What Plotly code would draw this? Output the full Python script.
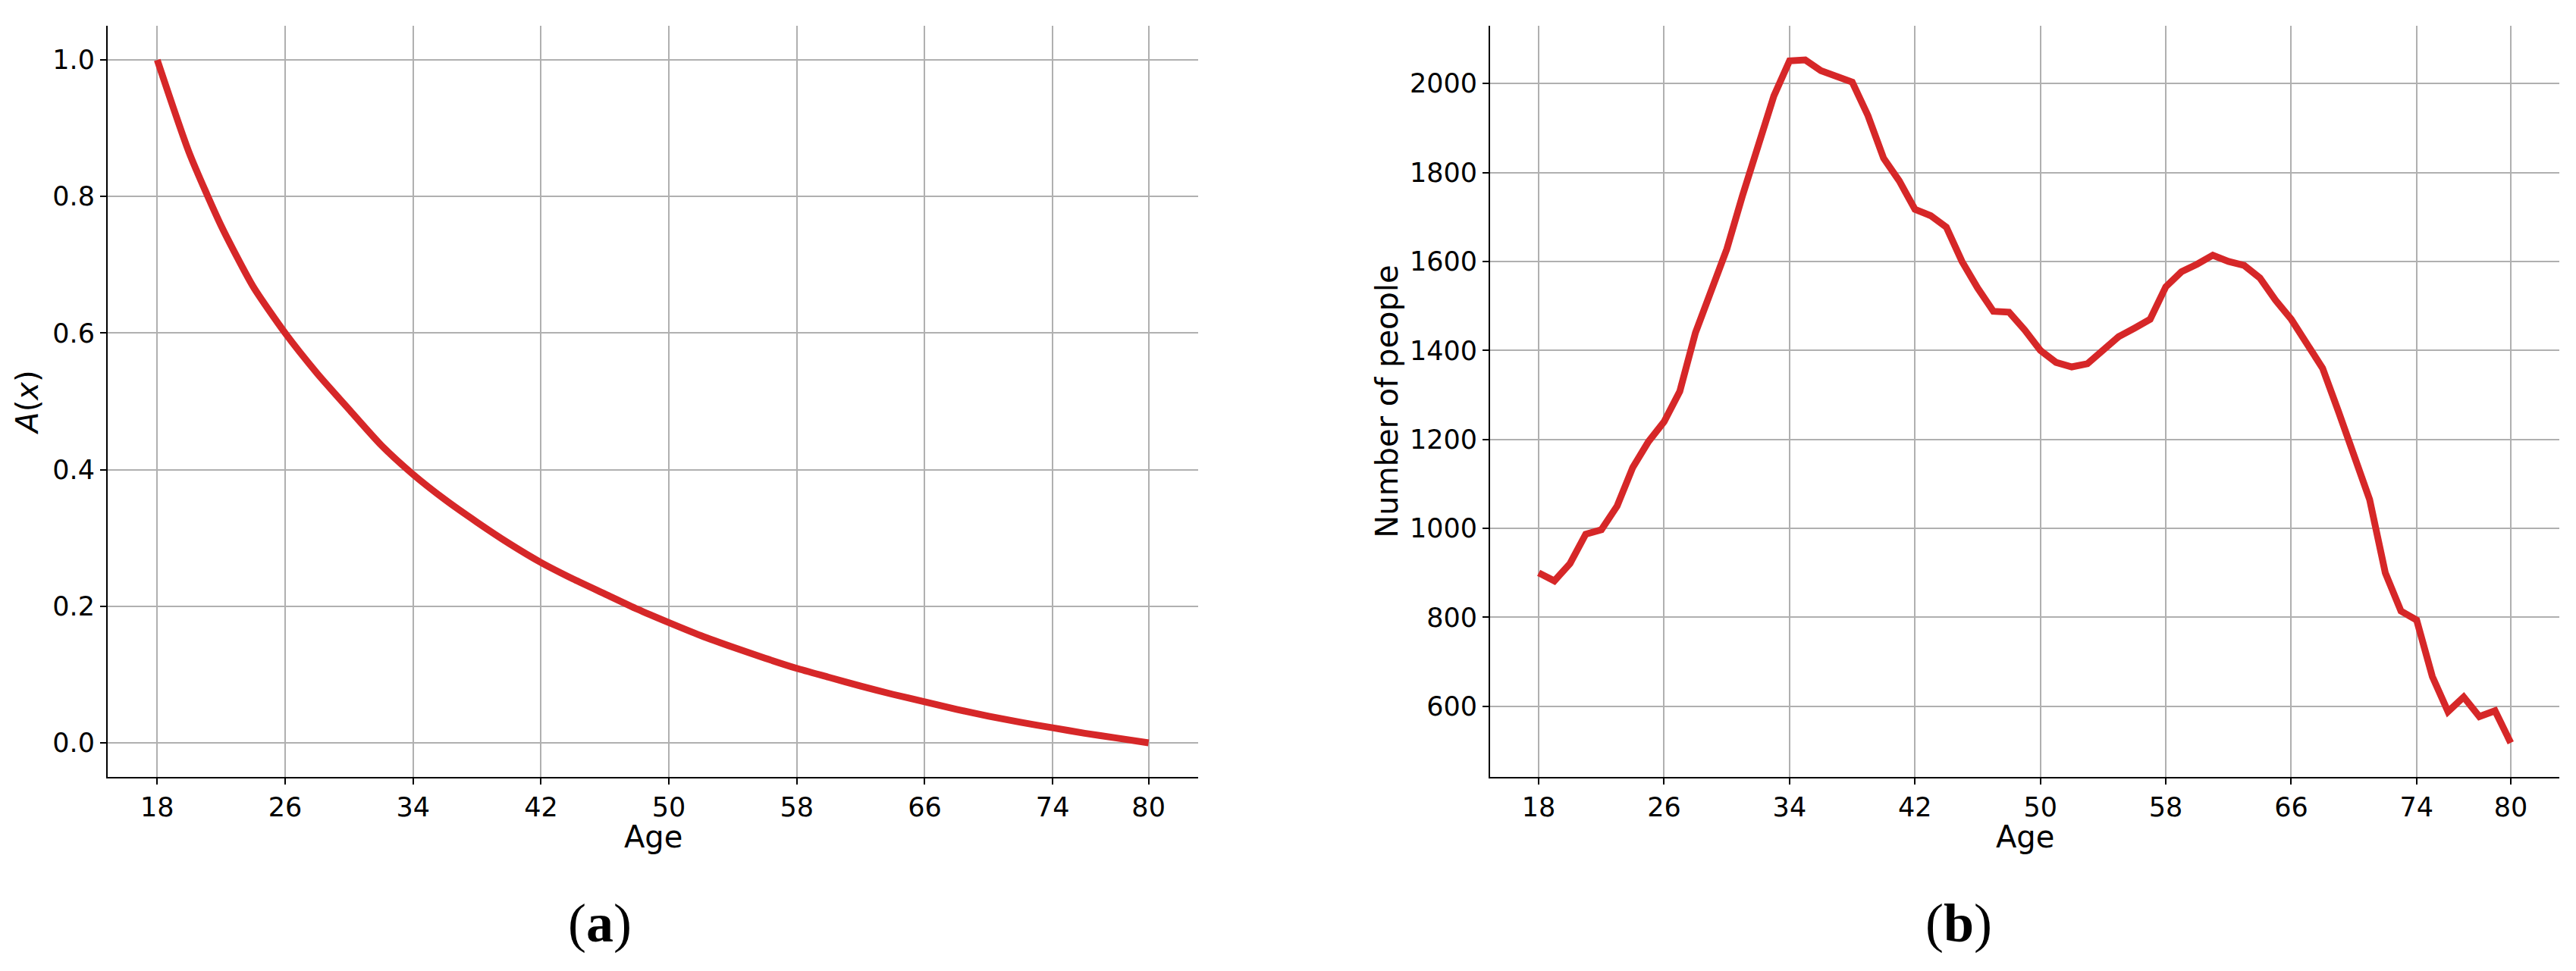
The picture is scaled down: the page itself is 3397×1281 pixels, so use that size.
import plotly.graph_objects as go

# ---- data ----
ages_a = list(range(18, 81, 2))
A_x = [1.000, 0.864, 0.757, 0.668, 0.600, 0.541, 0.488, 0.436, 0.393, 0.356,
       0.323, 0.292, 0.264, 0.240, 0.218, 0.196, 0.176, 0.157, 0.140, 0.124,
       0.109, 0.096, 0.083, 0.071, 0.060, 0.049, 0.039, 0.030, 0.022, 0.014,
       0.007, 0.000]

ages_b = list(range(18, 81))
people = [900, 882, 921, 987, 997, 1050, 1137, 1195, 1240, 1308,
          1440, 1530, 1628, 1748, 1860, 1972, 2051, 2053, 2029, 2018,
          2003, 1928, 1832, 1781, 1717, 1703, 1677, 1600, 1540, 1488,
          1486, 1446, 1400, 1373, 1363, 1370, 1401, 1431, 1450, 1470,
          1543, 1577, 1594, 1614, 1600, 1591, 1563, 1513, 1470, 1416,
          1360, 1264, 1160, 1065, 900, 814, 794, 667, 588, 621,
          577, 590, 518]

xticks = [18, 26, 34, 42, 50, 58, 66, 74, 80]
yticks_a = [0.0, 0.2, 0.4, 0.6, 0.8, 1.0]
yticks_b = [600, 800, 1000, 1200, 1400, 1600, 1800, 2000]

RED = "#d62728"
GRID = "#b0b0b0"
W, H = 3397, 1281
FONT = "DejaVu Sans"

def pad(lo, hi, f=0.05):
    d = (hi - lo) * f
    return [lo - d, hi + d]

fig = go.Figure()
fig.add_trace(go.Scatter(x=ages_a, y=A_x, mode="lines",
                         line=dict(color=RED, width=9, shape="spline", smoothing=0.6),
                         xaxis="x", yaxis="y", showlegend=False))
fig.add_trace(go.Scatter(x=ages_b, y=people, mode="lines",
                         line=dict(color=RED, width=9), xaxis="x2", yaxis="y2",
                         showlegend=False))

ydom = [1 - 1025 / H, 1 - 34 / H]
xdom1 = [142 / W, 1580 / W]
xdom2 = [1965 / W, 3375 / W]
common_x = dict(tickmode="array", tickvals=xticks, ticks="outside", ticklen=8,
                tickwidth=2, tickcolor="black", showline=True, linecolor="black",
                linewidth=2, showgrid=True, gridcolor=GRID, gridwidth=2,
                zeroline=False, tickfont=dict(family=FONT, size=35, color="black"),
                automargin=False)
common_y = dict(ticks="outside", ticklen=8, tickwidth=2, tickcolor="black",
                showline=True, linecolor="black", linewidth=2, showgrid=True,
                gridcolor=GRID, gridwidth=2, zeroline=False,
                tickfont=dict(family=FONT, size=35, color="black"),
                automargin=False)

title_font = dict(family=FONT, size=40, color="black")
age_y = 1 - 1104 / H

fig.update_layout(
    width=W, height=H,
    margin=dict(l=0, r=0, t=0, b=0),
    paper_bgcolor="white", plot_bgcolor="white",
    xaxis=dict(common_x, domain=xdom1, range=pad(18, 80), anchor="y"),
    yaxis=dict(common_y, domain=ydom, range=pad(0, 1), anchor="x",
               tickmode="array", tickvals=yticks_a,
               ticktext=[f"{v:.1f}" for v in yticks_a],
               title=dict(text="<i>A</i>(<i>x</i>)", standoff=6, font=title_font)),
    xaxis2=dict(common_x, domain=xdom2, range=pad(18, 80), anchor="y2"),
    yaxis2=dict(common_y, domain=ydom, range=pad(min(people), max(people)),
                anchor="x2", tickmode="array", tickvals=yticks_b,
                ticktext=[str(v) for v in yticks_b],
                title=dict(text="Number of people", standoff=3, font=title_font)),
    annotations=[
        dict(text="Age", x=sum(xdom1) / 2, y=age_y, xref="paper", yref="paper",
             showarrow=False, xanchor="center", yanchor="middle", font=title_font),
        dict(text="Age", x=sum(xdom2) / 2, y=age_y, xref="paper", yref="paper",
             showarrow=False, xanchor="center", yanchor="middle", font=title_font),
        dict(text="(<b>a</b>)", x=791 / W, y=1 - 1218 / H, xref="paper",
             yref="paper", showarrow=False, xanchor="center", yanchor="middle",
             font=dict(family="Liberation Serif", size=72, color="black")),
        dict(text="(<b>b</b>)", x=2583 / W, y=1 - 1218 / H, xref="paper",
             yref="paper", showarrow=False, xanchor="center", yanchor="middle",
             font=dict(family="Liberation Serif", size=72, color="black")),
    ],
)

fig.write_html("out.html", config={"displayModeBar": False},
               post_script="document.body.style.margin='0';document.body.style.overflow='hidden';")
